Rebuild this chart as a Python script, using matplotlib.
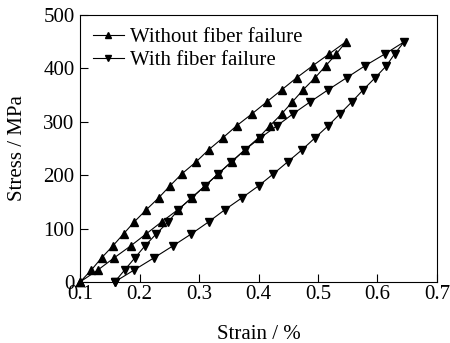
import matplotlib
matplotlib.use("Agg")
import matplotlib.pyplot as plt

plt.rcParams["font.family"] = ["Liberation Serif", "DejaVu Serif"]
plt.rcParams["font.size"] = 15

# stress levels shared by both branches (MPa)
stress_up = [0, 22.5, 45, 67.5, 90, 112.5, 135, 157.5, 180, 202.5, 225,
             247.5, 270, 292.5, 315, 337.5, 360, 382.5, 405, 427.5, 450]

# Without fiber failure: right branch (bottom -> peak), left branch (bottom -> peak)
nf_strain_right = [0.100, 0.130, 0.157, 0.185, 0.211, 0.237, 0.264, 0.288, 0.310, 0.332, 0.355,
                   0.377, 0.400, 0.419, 0.439, 0.457, 0.475, 0.495, 0.513, 0.531, 0.547]
nf_strain_left = [0.100, 0.119, 0.136, 0.155, 0.173, 0.191, 0.211, 0.232, 0.251, 0.271, 0.295,
                  0.316, 0.340, 0.363, 0.389, 0.414, 0.439, 0.464, 0.491, 0.519, 0.547]

# With fiber failure
ff_strain_right = [0.158, 0.191, 0.224, 0.256, 0.287, 0.316, 0.343, 0.372, 0.400, 0.425, 0.449,
                   0.473, 0.495, 0.517, 0.537, 0.557, 0.576, 0.596, 0.615, 0.629, 0.645]
ff_strain_left = [0.158, 0.175, 0.192, 0.209, 0.228, 0.248, 0.265, 0.287, 0.310, 0.332, 0.354,
                  0.377, 0.403, 0.431, 0.458, 0.487, 0.517, 0.548, 0.579, 0.613, 0.645]

# closed loops: up the right branch, back down the left branch
nf_x = nf_strain_right + nf_strain_left[::-1][1:]
nf_y = stress_up + stress_up[::-1][1:]
ff_x = ff_strain_right + ff_strain_left[::-1][1:]
ff_y = stress_up + stress_up[::-1][1:]

fig = plt.figure(figsize=(4.5, 3.43), dpi=100)
ax = fig.add_axes([0.178, 0.178, 0.793, 0.778])

ax.plot(nf_x, nf_y, color="black", linewidth=0.8, marker="^", markersize=5.5,
        clip_on=False, label="Without fiber failure")
ax.plot(ff_x, ff_y, color="black", linewidth=0.8, marker="v", markersize=5.5,
        clip_on=False, label="With fiber failure")

ax.set_xlim(0.1, 0.7)
ax.set_ylim(0, 500)
ax.set_xticks([0.1, 0.2, 0.3, 0.4, 0.5, 0.6, 0.7])
ax.set_yticks([0, 100, 200, 300, 400, 500])
ax.tick_params(direction="in", length=6, width=0.8, top=False, right=False)
ax.tick_params(axis="x", pad=2.5)
ax.tick_params(axis="y", pad=4)

ax.set_xlabel("Strain / %", labelpad=15)
ax.set_ylabel("Stress / MPa", labelpad=12)

ax.legend(loc="upper left", frameon=False, handlelength=1.5, handletextpad=0.3,
          labelspacing=0.15, borderaxespad=0.3, borderpad=0.3, markerscale=0.9)

fig.savefig("out.png", dpi=100)
